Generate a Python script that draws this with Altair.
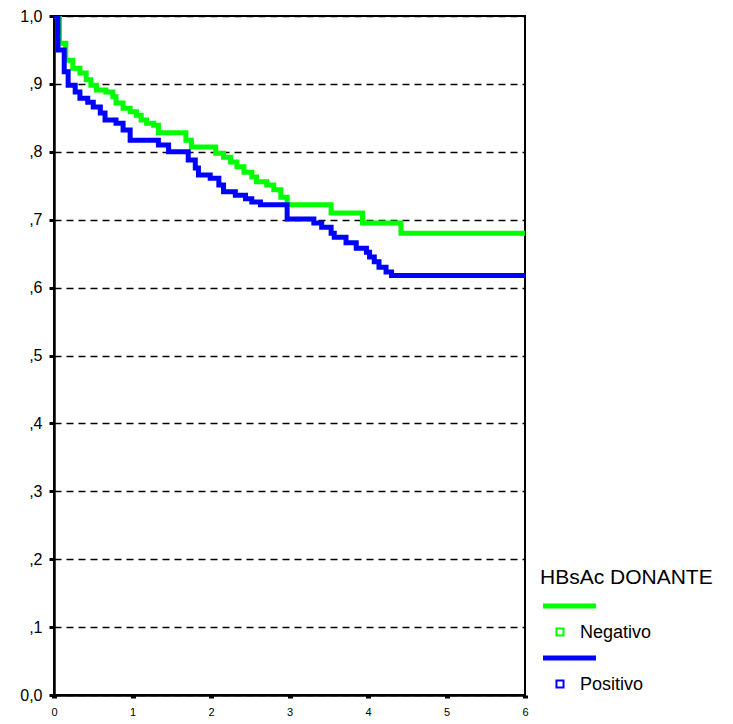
import altair as alt
import pandas as pd

series_names = ["Negativo", "Positivo"]
series_colors = ["#00ff00", "#0000ff"]

# Negativo (green) step curve: times of drops and survival after each drop
neg_t = [0.0, 0.07, 0.15, 0.24, 0.33, 0.41, 0.47, 0.54, 0.66, 0.75, 0.79, 0.88, 0.97,
         1.05, 1.11, 1.18, 1.27, 1.33, 1.68, 1.75, 2.06, 2.16, 2.25, 2.33, 2.42, 2.52,
         2.58, 2.71, 2.80, 2.89, 2.97, 3.53, 3.93, 4.42, 6.0]
neg_s = [1.0, 0.960, 0.935, 0.923, 0.916, 0.906, 0.898, 0.891, 0.888, 0.881, 0.872, 0.864, 0.859,
         0.854, 0.847, 0.842, 0.839, 0.828, 0.817, 0.807, 0.798, 0.792, 0.785, 0.778, 0.770, 0.763,
         0.756, 0.751, 0.744, 0.733, 0.722, 0.710, 0.695, 0.680, 0.680]

# Positivo (blue) step curve
pos_t = [0.0, 0.05, 0.13, 0.18, 0.27, 0.33, 0.43, 0.50, 0.59, 0.65, 0.79, 0.88, 0.97,
         1.33, 1.46, 1.71, 1.80, 1.84, 1.99, 2.10, 2.16, 2.31, 2.44, 2.52, 2.63, 2.97,
         3.31, 3.41, 3.53, 3.57, 3.72, 3.85, 3.98, 4.02, 4.08, 4.14, 4.23, 4.30, 6.0]
pos_s = [1.0, 0.950, 0.918, 0.898, 0.888, 0.879, 0.873, 0.866, 0.857, 0.847, 0.842, 0.832, 0.817,
         0.810, 0.800, 0.788, 0.776, 0.766, 0.761, 0.751, 0.741, 0.736, 0.731, 0.726, 0.722, 0.701,
         0.695, 0.689, 0.680, 0.674, 0.666, 0.658, 0.652, 0.645, 0.638, 0.630, 0.623, 0.618, 0.618]

x_ticks = [0, 1, 2, 3, 4, 5, 6]
y_ticks = [0.0, 0.1, 0.2, 0.3, 0.4, 0.5, 0.6, 0.7, 0.8, 0.9, 1.0]
legend_title = "HBsAc DONANTE"

W, H = 471, 679
FONT = "Liberation Sans"

x_scale = alt.Scale(domain=[0, 6], nice=False, zero=False)
y_scale = alt.Scale(domain=[0, 1], nice=False)

x_axis = alt.Axis(values=x_ticks, title=None, grid=False, labelFontSize=11, labelPadding=8,
                  tickSize=3, tickWidth=5, tickColor="black", domainColor="black",
                  domainWidth=2.5, labelColor="black", labelFont=FONT, labelFlush=False)
y_axis = alt.Axis(values=y_ticks, title=None, grid=True, gridDash=[7, 5], gridColor="black",
                  gridWidth=1.5, gridOpacity=1, labelFontSize=16, labelPadding=7,
                  tickSize=5, tickWidth=3, tickColor="black", domainColor="black",
                  domainWidth=2.5, labelColor="black", labelFont=FONT,
                  labelExpr="datum.value == 0 ? '0,0' : datum.value == 1 ? '1,0' : ',' + round(datum.value * 10)")

df_neg = pd.DataFrame({"t": neg_t, "s": neg_s, "g": series_names[0]})
df_pos = pd.DataFrame({"t": pos_t, "s": pos_s, "g": series_names[1]})

def curve(df, color):
    return alt.Chart(df).mark_line(interpolate="step-after", strokeWidth=5, color=color,
                                   clip=True).encode(
        x=alt.X("t:Q", scale=x_scale, axis=x_axis),
        y=alt.Y("s:Q", scale=y_scale, axis=y_axis),
    )

layers = [curve(df_neg, series_colors[0]), curve(df_pos, series_colors[1])]

# manual legend (positions relative to plot origin)
layers.append(alt.Chart(pd.DataFrame({"a": [0]})).mark_text(
    text=legend_title, align="left", baseline="middle", fontSize=21, font=FONT, color="black"
).encode(x=alt.value(486), y=alt.value(562)))

for i, (name, col) in enumerate(zip(series_names, series_colors)):
    base_y = 590 + i * 52
    one = pd.DataFrame({"a": [0]})
    layers.append(alt.Chart(one).mark_rule(color=col, strokeWidth=5).encode(
        x=alt.value(489), x2=alt.value(542), y=alt.value(base_y)))
    layers.append(alt.Chart(one).mark_point(shape="square", filled=False, size=50,
                                            strokeWidth=2, color=col, opacity=1).encode(
        x=alt.value(506), y=alt.value(base_y + 26)))
    layers.append(alt.Chart(one).mark_text(text=name, align="left", baseline="middle",
                                           fontSize=18, font=FONT, color="black").encode(
        x=alt.value(526), y=alt.value(base_y + 27)))

chart = alt.layer(*layers).properties(
    width=W, height=H,
    background="white",
    autosize=alt.AutoSizeParams(type="none"),
    padding={"left": 46, "top": 8, "right": 200, "bottom": 25},
).configure_view(stroke="black", strokeWidth=2)

chart.save("out.html", embed_options={"renderer": "svg", "actions": False})
